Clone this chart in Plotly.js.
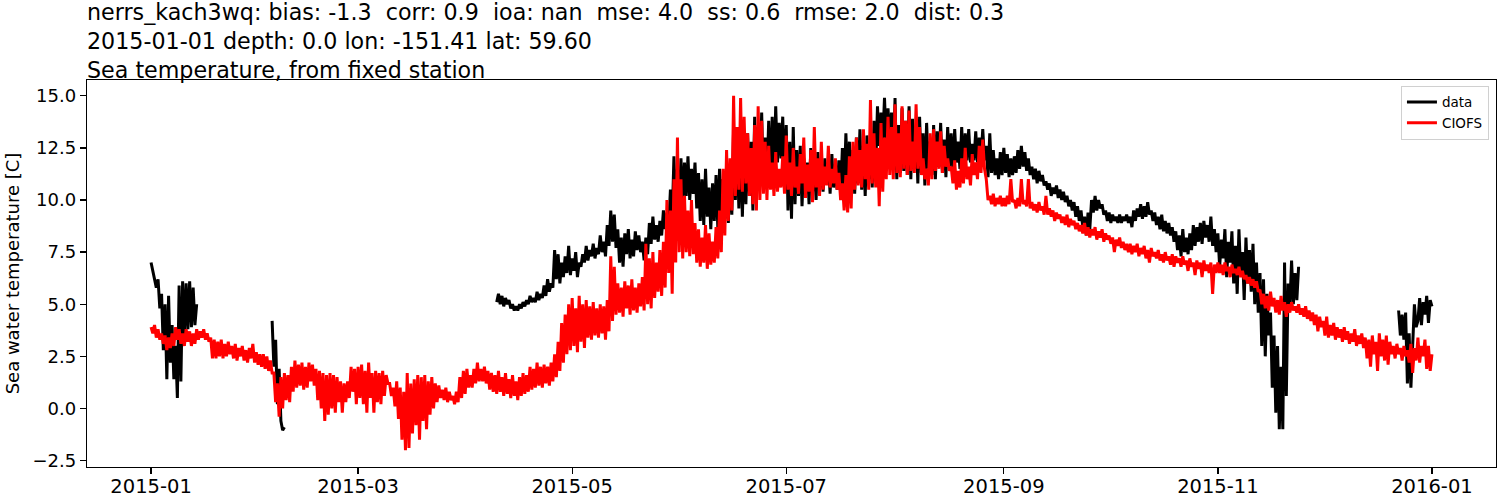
<!DOCTYPE html>
<html><head><meta charset="utf-8">
<script src="https://cdn.plot.ly/plotly-3.0.1.min.js"></script>
<style>html,body{margin:0;padding:0;background:#fff}</style>
</head><body><div id="chart" style="width:1500px;height:500px"></div>
<script>
// ---- values, two readings per day (00:00, 12:00) ----
// CIOFS model (red), starts 2015-01-01 00:00
const ciofsJan = [3.9,3.6, 4.0,3.4, 3.8,3.3, 3.6,3.1, 3.5,2.8, 3.4,2.9, 3.6,3.0, 3.9,3.3, 3.8,3.1, 3.6,3.0,
  3.8,3.2, 3.7,3.0, 3.6,3.1, 3.8,3.3, 3.7,3.4, 3.8,3.3, 3.6,3.2, 3.4,2.4, 3.3,2.4, 3.2,2.5,
  3.3,2.4, 3.1,2.5, 3.2,2.6, 3.0,2.4, 3.1,2.3, 2.9,2.5, 3.0,2.3, 2.8,2.2, 2.9,2.4, 3.1,2.2, 2.7,2.1];
const ciofsFeb = [2.6,2.0, 2.6,1.9, 2.5,1.8, 2.3,1.7, 1.7,0.3, 1.2,-0.4, 1.5,0.0, 1.7,0.4, 1.6,0.3, 2.0,0.8,
  2.3,1.0, 2.1,1.1, 2.2,0.9, 2.0,1.0, 2.2,1.3, 2.1,1.1, 1.9,0.4, 1.8,0.0, 1.7,-0.6, 1.6,-0.3,
  1.7,0.0, 1.6,-0.2, 1.5,0.3, 1.3,-0.2, 1.2,0.3, 1.3,0.5, 2.0,0.8, 1.9,0.2];
const ciofsMar = [2.0,0.5, 2.1,0.2, 1.8,-0.2, 2.2,0.5, 1.7,-0.2, 1.8,0.3, 1.7,0.2, 1.8,0.6, 1.6,1.2, 1.2,0.6,
  1.0,0.1, 1.3,-0.5, 1.0,-1.5, 0.8,-2.0, 1.7,-1.9, 1.2,-1.2, 1.4,-0.8, 1.6,-1.5, 1.5,-0.6, 1.6,-1.0,
  1.3,-0.3, 1.5,0.0, 1.2,0.3, 1.1,0.5, 0.9,0.4, 1.0,0.3, 0.8,0.4, 0.6,0.2, 0.8,0.3, 1.5,0.5, 1.8,0.7];
const ciofsApr = [1.9,1.0, 1.6,1.0, 1.9,1.2, 2.2,1.3, 1.9,1.3, 2.0,1.2, 1.8,0.9, 1.7,0.8, 1.6,0.7, 1.8,0.8,
  1.5,0.6, 1.7,0.7, 1.4,0.5, 1.6,0.6, 1.3,0.4, 1.5,0.6, 1.7,0.7, 1.6,0.8, 2.0,0.9, 1.9,1.0,
  2.2,1.1, 2.0,1.0, 2.1,1.2, 2.0,1.1, 2.2,1.3, 2.6,1.5, 3.2,1.8, 4.1,2.2, 4.5,2.6, 5.0,2.8];
const ciofsMay = [5.3,3.0, 4.8,2.7, 5.4,3.2, 5.0,2.9, 5.2,3.4, 4.9,3.3, 5.1,3.5, 4.8,3.4, 5.0,3.6, 4.9,3.3,
  5.2,3.7, 7.3,4.2, 6.8,4.5, 6.0,4.6, 5.8,4.4, 6.1,4.8, 5.9,4.5, 6.2,4.7, 5.8,4.6, 6.0,4.9,
  6.3,4.7, 7.9,5.0, 7.2,4.8, 7.5,5.3, 7.0,5.6, 7.6,5.4, 8.0,5.8, 10.0,6.5, 9.5,5.5, 11.0,7.0, 13.0,7.5];
const ciofsJun = [11.0,7.2, 10.2,7.5, 9.5,7.3, 10.0,7.4, 8.9,7.0, 8.6,6.8, 8.2,7.0, 8.8,6.7, 8.4,6.9, 8.0,7.0,
  8.7,7.2, 9.5,7.5, 11.5,8.3, 12.4,9.0, 12.0,9.5, 15.0,10.2, 13.5,10.5, 14.9,10.4, 14.0,10.8, 13.2,10.2,
  12.5,9.8, 13.6,9.5, 14.5,10.0, 13.8,10.3, 12.8,10.0, 12.6,10.5, 11.8,10.2, 12.3,10.4, 11.5,10.6, 12.1,10.3];
const ciofsJul = [13.1,10.5, 11.8,10.2, 12.5,10.6, 11.6,10.3, 12.2,10.8, 13.0,10.1, 11.7,10.4, 12.4,9.9, 13.5,10.6, 12.0,10.2,
  12.8,10.5, 11.6,10.7, 12.6,10.6, 11.5,10.8, 12.0,10.5, 11.3,10.0, 10.8,9.5, 11.2,9.4, 12.1,9.6, 12.8,10.5,
  13.0,10.7, 12.4,10.6, 13.4,11.0, 12.7,10.5, 14.8,10.8, 13.2,10.6, 12.5,9.7, 13.7,10.4, 13.0,11.0, 14.0,11.2, 13.5,11.0];
const ciofsAug = [14.6,11.3, 13.2,11.1, 14.5,11.5, 13.8,11.2, 14.3,11.4, 12.8,11.3, 14.6,11.5, 13.5,11.2, 12.0,11.0, 11.5,10.7,
  13.2,11.0, 13.4,11.4, 12.8,11.5, 13.3,11.3, 12.6,11.6, 12.0,11.4, 11.6,10.8, 11.9,10.5, 11.4,10.6, 12.0,10.8,
  12.5,11.0, 11.6,10.7, 12.2,11.2, 11.8,11.0, 12.6,11.3, 12.9,11.5, 11.0,10.0, 10.2,9.8, 10.3,9.7, 10.1,9.8, 10.2,9.7];
const ciofsSep = [10.1,9.7, 10.2,9.8, 11.0,9.9, 10.0,9.6, 10.1,9.7, 11.0,9.8, 10.0,9.7, 11.0,9.6, 9.9,9.5, 9.8,9.4,
  9.9,9.5, 9.7,9.3, 10.2,9.3, 9.6,9.2, 9.5,9.0, 9.4,9.1, 9.3,8.9, 9.2,8.8, 9.3,8.7, 9.1,8.8,
  9.0,8.6, 8.9,8.5, 8.8,8.4, 8.9,8.3, 8.7,8.2, 8.6,8.3, 8.7,8.1, 8.5,8.2, 8.6,8.0, 8.4,8.1];
const ciofsOct = [8.3,7.9, 8.2,7.5, 8.1,7.8, 8.2,7.7, 8.0,7.6, 7.9,7.5, 7.9,7.4, 7.8,7.5, 7.9,7.3, 7.7,7.4,
  7.8,7.2, 7.6,7.0, 7.7,7.3, 7.5,7.2, 7.6,7.1, 7.4,7.0, 7.5,7.1, 7.3,6.9, 7.4,6.8, 7.3,7.0,
  7.2,6.8, 7.3,6.9, 7.1,6.6, 7.2,6.8, 7.0,6.4, 7.1,6.7, 7.0,6.3, 7.1,6.6, 6.9,6.5, 7.0,5.5, 6.9,6.5];
const ciofsNov = [7.0,6.5, 6.9,6.4, 7.0,6.6, 6.8,6.3, 6.9,6.5, 6.7,6.4, 6.8,6.3, 6.6,6.2, 6.4,6.0, 6.3,5.9,
  6.2,5.8, 6.1,5.6, 5.7,5.0, 5.5,4.8, 5.4,4.7, 5.6,4.9, 5.3,4.6, 5.2,4.5, 5.4,4.7, 5.1,4.4,
  5.0,4.6, 5.1,4.7, 4.9,4.6, 5.0,4.5, 4.8,4.4, 4.9,4.3, 4.7,4.2, 4.6,4.0, 4.5,3.7, 4.4,3.9];
const ciofsDec = [4.2,3.5, 4.4,3.4, 4.0,3.5, 4.1,3.3, 3.9,3.4, 3.8,3.2, 3.9,3.3, 3.7,3.1, 3.6,3.2, 3.8,3.0,
  3.5,3.1, 3.6,2.9, 3.4,2.4, 3.3,2.0, 3.5,2.6, 3.2,1.8, 3.6,2.5, 3.3,2.3, 3.5,2.1, 3.2,2.6,
  3.0,2.4, 3.1,2.6, 2.9,2.3, 3.0,2.5, 2.8,2.2, 3.1,1.7, 2.9,2.3, 3.4,2.2, 3.0,2.5, 3.3,1.9, 3.0,1.8, 2.6];

// Observations (black), in separate segments with gaps between them
const dataJan = [7.0,6.6, 6.3,5.8, 6.2,4.8, 5.5,2.8, 5.0,1.4, 5.4,2.2, 4.0,1.4, 3.0,0.5, 5.9,1.3, 6.1,3.5,
  6.0,3.8, 6.1,3.9, 5.8,4.0, 5.0];                                   // from 2015-01-01 00:00
const dataFeb = [4.2, 2.0, 3.3, 0.2, 1.9, -0.6, -1.05, -0.9];        // from 2015-02-04 12:00
const dataApr = [5.1, 5.5,5.0, 5.4,4.9, 5.3,5.0, 5.2,4.8, 5.0,4.7, 4.9,4.7, 5.0,4.8, 5.1,4.9, 5.2,5.0, 5.4,5.1,
  5.3,5.1, 5.6,5.2, 5.5,5.3, 5.9,5.4, 6.2,5.6, 6.0,5.8, 7.6,6.2, 7.4,6.0, 7.0,6.3, 7.3,6.5, 7.8,6.4]; // from 2015-04-09 12:00
const dataMay = [7.2,6.6, 7.5,6.3, 7.0,6.8, 7.4,7.0, 7.8,7.1, 7.6,7.3, 7.9,7.2, 7.7,7.4, 8.3,7.5, 8.0,7.3,
  8.8,7.8, 9.5,8.0, 9.3,7.7, 8.6,7.0, 8.2,6.8, 8.4,7.4, 8.6,7.2, 8.1,7.3, 8.5,7.6, 8.3,7.5,
  8.0,7.1, 8.2,7.4, 8.9,7.9, 9.2,8.1, 8.8,8.0, 9.0,8.3, 9.5,8.6, 9.4,8.7, 10.5,9.0, 12.1,9.4, 11.5,9.6];
const dataJun = [12.0,9.8, 11.8,10.2, 12.1,10.0, 11.5,10.3, 11.8,9.6, 11.3,9.0, 11.0,8.8, 11.5,9.2, 10.6,8.6, 10.8,9.0,
  11.2,8.7, 11.5,9.4, 11.0,9.1, 10.9,8.9, 11.4,9.3, 13.4,10.0, 12.6,9.6, 13.0,9.2, 12.4,9.8, 13.2,10.2,
  12.8,9.5, 14.0,10.5, 13.5,10.8, 14.2,10.6, 13.0,11.0, 13.8,10.7, 14.0,11.2, 14.5,11.8, 13.7,12.0, 14.0,11.0];
const dataJul = [13.6,9.5, 12.8,9.1, 13.5,9.8, 12.4,10.2, 12.6,9.7, 12.0,10.3, 11.8,9.8, 12.5,10.4, 11.9,10.0, 12.3,10.6,
  11.6,10.4, 12.0,10.8, 11.8,10.3, 12.2,10.6, 11.7,10.5, 11.9,10.3, 12.5,10.5, 13.2,10.9, 12.8,10.6, 12.4,10.3,
  13.0,10.8, 13.4,10.5, 12.6,10.2, 13.1,11.0, 12.5,10.6, 13.8,11.5, 14.5,12.6, 14.2,12.8, 14.9,12.7, 14.4,12.9, 14.2,11.5];
const dataAug = [14.9,11.0, 13.6,11.3, 14.4,11.4, 13.8,11.2, 14.5,11.0, 13.9,11.5, 13.5,10.8, 14.0,11.3, 13.2,10.7, 13.7,11.5,
  12.8,11.2, 13.6,11.0, 13.3,11.6, 13.7,11.3, 12.9,11.1, 13.5,11.6, 13.2,11.3, 13.4,11.8, 12.8,11.5, 13.5,11.4,
  13.2,11.9, 13.4,11.8, 12.7,11.9, 13.3,11.8, 13.0,12.0, 13.4,11.9, 12.6,11.1, 13.2,11.3, 12.4,11.2, 12.0,11.0, 12.3,11.2];
const dataSep = [12.5,11.3, 12.2,11.1, 12.0,11.2, 12.1,11.3, 12.4,11.5, 12.6,11.6, 12.3,11.4, 12.0,11.2, 11.6,11.0, 11.5,10.8,
  11.4,10.9, 11.2,10.7, 10.9,10.5, 10.8,10.2, 10.6,10.3, 10.7,10.1, 10.5,10.0, 10.4,9.9, 10.2,9.7, 10.0,9.5,
  9.9,9.2, 9.7,9.0, 9.5,8.7, 9.2,8.3, 9.4,8.6, 10.0,9.4, 10.2,9.5, 10.0,9.6, 9.8,9.3, 9.5,9.0];
const dataOct = [9.4,8.9, 9.3,9.0, 9.2,8.9, 9.3,8.9, 9.2,9.0, 9.3,8.9, 9.2,8.7, 9.5,9.0, 9.6,9.2, 9.8,9.1,
  9.7,9.2, 9.9,9.3, 9.5,9.0, 9.4,8.8, 9.2,8.6, 9.3,8.5, 9.0,8.4, 8.9,8.3, 8.7,8.0, 8.5,7.6,
  8.3,7.3, 8.6,7.5, 8.2,7.4, 8.4,7.6, 8.8,7.8, 8.7,8.0, 8.9,7.9, 9.0,8.2, 8.8,8.0, 9.2,7.8, 8.6,7.5];
const dataNov = [8.4,6.8, 8.1,7.2, 8.6,6.3, 8.0,7.0, 8.5,6.0, 7.8,5.5, 8.6,6.4, 7.5,5.2, 8.2,6.0, 7.6,5.6,
  7.9,5.0, 7.0,4.6, 6.5,3.0, 6.2,2.5, 5.5,3.5, 4.6,1.0, 3.5,-0.2, 3.0,-1.0, 2.0,-1.0, 7.0,0.6,
  6.0,4.9, 7.1,5.0, 6.5,5.2, 6.8];
const dataDec = [4.7, 3.5,4.5, 3.3,4.6, 1.2,3.6, 1.0,3.0, 5.0,3.9, 4.2,5.3, 4.0,5.1, 4.5,5.4, 4.1,5.2, 4.9]; // from 2015-12-22 12:00

const segStarts = ['2015-01-01 00:00', '2015-02-04 12:00', '2015-04-09 12:00', '2015-12-22 12:00'];
const stepHours = 12;

function fmt(ms) {
  const d = new Date(ms), p = n => String(n).padStart(2, '0');
  return d.getUTCFullYear() + '-' + p(d.getUTCMonth() + 1) + '-' + p(d.getUTCDate()) + ' ' + p(d.getUTCHours()) + ':' + p(d.getUTCMinutes());
}
function buildSeries(segments) {
  const x = [], y = [];
  segments.forEach((s, k) => {
    const t0 = Date.parse(s.start.replace(' ', 'T') + ':00Z');
    if (k > 0) { x.push(fmt(t0 - 6 * 3600e3)); y.push(null); }
    s.values.forEach((v, i) => { x.push(fmt(t0 + i * stepHours * 3600e3)); y.push(v); });
  });
  return {x, y};
}

const ciofs = buildSeries([{start: segStarts[0], values: [].concat(ciofsJan, ciofsFeb, ciofsMar, ciofsApr, ciofsMay, ciofsJun, ciofsJul, ciofsAug, ciofsSep, ciofsOct, ciofsNov, ciofsDec)}]);
const obs = buildSeries([
  {start: segStarts[0], values: dataJan},
  {start: segStarts[1], values: dataFeb},
  {start: segStarts[2], values: [].concat(dataApr, dataMay, dataJun, dataJul, dataAug, dataSep, dataOct, dataNov)},
  {start: segStarts[3], values: dataDec}
]);

const FONT = 'DejaVu Sans, sans-serif';
const titleLines = [
  'nerrs_kach3wq: bias: -1.3 \u00a0corr: 0.9 \u00a0ioa: nan \u00a0mse: 4.0 \u00a0ss: 0.6 \u00a0rmse: 2.0 \u00a0dist: 0.3',
  '2015-01-01 depth: 0.0 lon: -151.41 lat: 59.60',
  'Sea temperature, from fixed station'
];

const traces = [
  {x: obs.x, y: obs.y, name: 'data', type: 'scatter', mode: 'lines', line: {color: 'black', width: 3}, connectgaps: false},
  {x: ciofs.x, y: ciofs.y, name: 'CIOFS', type: 'scatter', mode: 'lines', line: {color: 'red', width: 3}}
];

const axisCommon = {
  showline: true, mirror: true, linecolor: 'black', linewidth: 1.3,
  ticks: 'outside', ticklen: 6, tickwidth: 1.3, tickcolor: 'black',
  showgrid: false, zeroline: false,
  tickfont: {family: FONT, size: 18, color: 'black'}
};

const layout = {
  width: 1500, height: 500,
  margin: {l: 87, r: 4, t: 80, b: 33},
  paper_bgcolor: 'white', plot_bgcolor: 'white',
  font: {family: FONT, color: 'black'},
  title: {
    text: titleLines.join('<br>'),
    font: {family: FONT, size: 22.2, color: 'black'},
    xref: 'paper', x: 0, xanchor: 'left',
    yref: 'container', y: 0.9598, yanchor: 'top'
  },
  xaxis: Object.assign({}, axisCommon, {
    type: 'date',
    range: ['2014-12-13 18:00', '2016-01-19 06:00'],
    tick0: '2015-01-01', dtick: 'M2', tickformat: '%Y-%m',
    tickfont: {family: FONT, size: 19.5, color: 'black'},
    ticklabelstandoff: -5
  }),
  yaxis: Object.assign({}, axisCommon, {
    range: [-2.81, 15.76], tick0: 0, dtick: 2.5, tickformat: '.1f',
    title: {text: 'Sea water temperature [C]', font: {family: FONT, size: 18, color: 'black'}, standoff: 8}
  }),
  showlegend: true,
  legend: {
    x: 0.995, y: 0.985, xanchor: 'right', yanchor: 'top',
    bgcolor: 'rgba(255,255,255,0.8)', bordercolor: '#d0d0d0', borderwidth: 1,
    font: {family: FONT, size: 13.5, color: 'black'}
  }
};

Plotly.newPlot('chart', traces, layout, {displayModeBar: false, staticPlot: true});
</script>
</body></html>
